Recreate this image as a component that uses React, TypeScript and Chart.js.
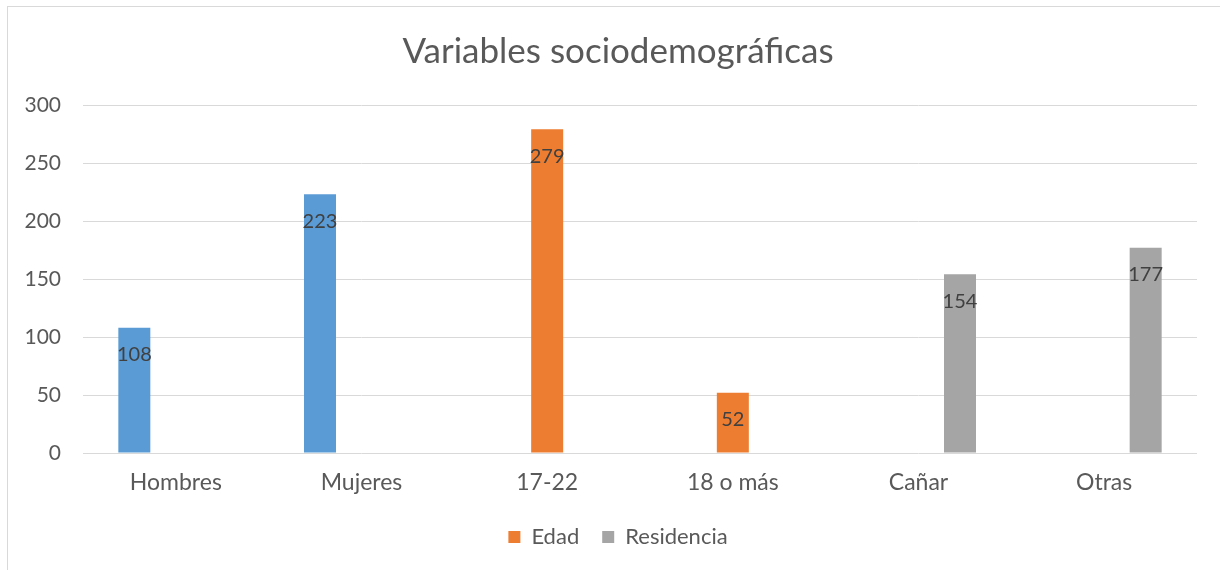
import React, { useEffect, useRef } from "react";
import { Chart, registerables } from "chart.js";

Chart.register(...registerables);

const categories = ["Hombres", "Mujeres", "17-22", "18 o más", "Cañar", "Otras"];
const sexoValues = [108, 223, null, null, null, null];
const edadValues = [null, null, 279, 52, null, null];
const residenciaValues = [null, null, null, null, 154, 177];
const yTicks = [0, 50, 100, 150, 200, 250, 300];
const chartTitle = "Variables sociodemográficas";

const FONT = "Lato, 'Open Sans', sans-serif";

const dataLabelPlugin = {
  id: "dataLabels",
  afterDatasetsDraw(chart: any) {
    const ctx = chart.ctx;
    ctx.save();
    ctx.font = `20px ${FONT}`;
    ctx.fillStyle = "#404040";
    ctx.textAlign = "center";
    ctx.textBaseline = "middle";
    chart.data.datasets.forEach((ds: any, di: number) => {
      const meta = chart.getDatasetMeta(di);
      meta.data.forEach((el: any, i: number) => {
        const v = ds.data[i];
        if (v === null || v === undefined) return;
        ctx.fillText(String(v), el.x, el.y + 27);
      });
    });
    ctx.restore();
  },
};

export default function App() {
  const ref = useRef<HTMLCanvasElement | null>(null);

  useEffect(() => {
    if (!ref.current) return;
    const chart = new Chart(ref.current, {
      type: "bar",
      data: {
        labels: categories,
        datasets: [
          { label: "Sexo", data: sexoValues, backgroundColor: "#5B9BD5" },
          { label: "Edad", data: edadValues, backgroundColor: "#ED7D31" },
          { label: "Residencia", data: residenciaValues, backgroundColor: "#A5A5A5" },
        ],
      },
      options: {
        animation: false,
        responsive: false,
        maintainAspectRatio: false,
        datasets: {
          bar: { categoryPercentage: 0.6706, barPercentage: 0.771 },
        },
        layout: { padding: { left: 24, right: 8, top: 0, bottom: 12 } },
        plugins: {
          title: {
            display: true,
            text: chartTitle,
            color: "#595959",
            font: { family: FONT, size: 35, weight: "normal" },
            padding: { top: 31, bottom: 32 },
          },
          legend: {
            position: "bottom",
            labels: {
              filter: (item: any) => item.datasetIndex !== 0,
              color: "#595959",
              font: { family: FONT, size: 22 },
              boxWidth: 12,
              boxHeight: 12,
              padding: 23,
            },
          },
          tooltip: { enabled: false },
        },
        scales: {
          x: {
            grid: { display: false, drawTicks: false },
            border: { display: false },
            ticks: { color: "#595959", font: { family: FONT, size: 23 }, padding: 16, maxRotation: 0 },
            afterFit: (s: any) => {
              s.height = 50;
            },
          },
          y: {
            min: 0,
            max: 300,
            afterBuildTicks: (s: any) => {
              s.ticks = yTicks.map((v) => ({ value: v }));
            },
            grid: { color: "#d9d9d9", lineWidth: 1, drawTicks: false },
            border: { display: false },
            ticks: { color: "#595959", font: { family: FONT, size: 21 }, padding: 22 },
            afterFit: (s: any) => {
              s.width = 59;
            },
          },
          yRightSpace: {
            type: "linear",
            position: "right",
            grid: { display: false, drawTicks: false },
            border: { display: false },
            ticks: { display: false },
            afterFit: (s: any) => {
              s.width = 15;
            },
          },
        },
      },
      plugins: [dataLabelPlugin],
    });
    return () => chart.destroy();
  }, []);

  return (
    <div
      style={{
        position: "fixed",
        left: 0,
        top: 0,
        width: 1220,
        height: 570,
        overflow: "hidden",
        background: "#ffffff",
      }}
    >
      <div
        style={{
          position: "absolute",
          left: 7,
          top: 6,
          width: 1240,
          height: 600,
          border: "1px solid #d9d9d9",
        }}
      />
      <canvas ref={ref} width={1220} height={570} style={{ position: "absolute", left: 0, top: 0 }} />
    </div>
  );
}
